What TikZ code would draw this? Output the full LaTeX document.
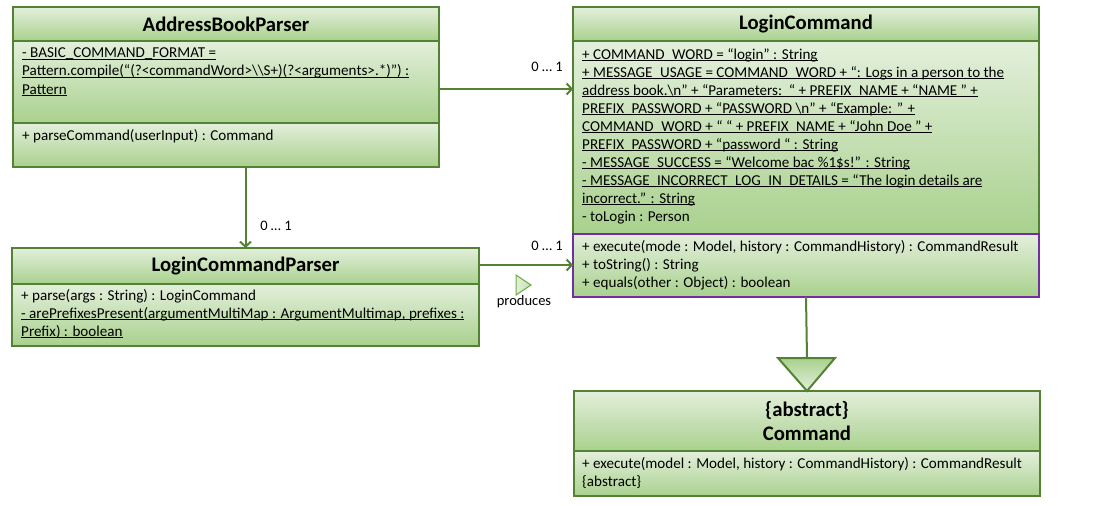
\documentclass[tikz,border=0pt]{standalone}
\usepackage{fontspec}
\setmainfont{Carlito}
\usetikzlibrary{arrows.meta,calc}
\definecolor{gborder}{HTML}{548235}
\definecolor{glight}{HTML}{E3EFDB}
\definecolor{gdark}{HTML}{A9D18E}
\definecolor{mpurple}{HTML}{7030A0}
\definecolor{trifill}{HTML}{C5E0B4}
\definecolor{triborder}{HTML}{70AD47}
\newsavebox\myulbox
\newcommand\myul[1]{\sbox\myulbox{#1}\leavevmode\rlap{\usebox\myulbox}\rule[-2.1pt]{\wd\myulbox}{0.9pt}}
\tikzset{
  comp/.style={rectangle, draw=gborder, line width=2, top color=glight, bottom color=gdark,
    anchor=north west, inner sep=0, outer sep=0},
  ctitle/.style={font=\fontsize{20.7}{24}\selectfont\bfseries, align=center},
  body/.style={anchor=north west, align=left, inner sep=0, font=\fontsize{15.1}{18}\selectfont},
  assoc/.style={draw=gborder, line width=2, -{Straight Barb[length=5,width=11,line width=2]}},
  mult/.style={inner sep=0, font=\fontsize{14.5}{18}\selectfont}
}
\begin{document}
\begin{tikzpicture}[x=1pt,y=-1pt]
\useasboundingbox (0,0) rectangle (1114,506);
\fill[white] (0,0) rectangle (1114,506);

% AddressBookParser
\node[comp, ctitle, minimum width=426, minimum height=34] (abpT) at (13,7) {AddressBookParser};
\node[comp, minimum width=426, minimum height=82] (abpA) at (13,41) {};
\node[comp, minimum width=426, minimum height=44] (abpM) at (13,123) {};
\node[body] (abpAt) at (22,48) {\myul{- BASIC\_COMMAND\_FORMAT =}\\
\myul{Pattern.compile(“(?<commandWord>\textbackslash\textbackslash S+)(?<arguments>.*)”) :}\\
\myul{Pattern}};
\node[body] (abpMt) at (22,129) {+ parseCommand(userInput) : Command};

% LoginCommand
\node[comp, ctitle, minimum width=466, minimum height=34] (lcT) at (573,7) {LoginCommand};
\node[comp, minimum width=466, minimum height=193] (lcA) at (573,41) {};
\node[comp, draw=mpurple, minimum width=466, minimum height=63] (lcM) at (573,234) {};
\node[body] (lcAt) at (582,48) {\myul{+ COMMAND\_WORD = “login” : String}\\
\myul{+ MESSAGE\_USAGE = COMMAND\_WORD + “: Logs in a person to the}\\
\myul{address book.\textbackslash n” + “Parameters:~~“ + PREFIX\_NAME + “NAME ” +}\\
\myul{PREFIX\_PASSWORD + “PASSWORD \textbackslash n” + “Example: ” +}\\
\myul{COMMAND\_WORD + “ “ + PREFIX\_NAME + “John Doe ” +}\\
\myul{PREFIX\_PASSWORD + “password “ : String}\\
\myul{- MESSAGE\_SUCCESS = “Welcome bac \%1\$s!” : String}\\
\myul{- MESSAGE\_INCORRECT\_LOG\_IN\_DETAILS = “The login details are}\\
\myul{incorrect.” : String}\\
- toLogin : Person};
\node[body] (lcMt) at (582,240) {+ execute(mode : Model, history : CommandHistory) : CommandResult\\
+ toString() : String\\
+ equals(other : Object) : boolean};

% LoginCommandParser
\node[comp, ctitle, minimum width=467, minimum height=36] (lcpT) at (12,248) {LoginCommandParser};
\node[comp, minimum width=467, minimum height=62] (lcpM) at (12,284) {};
\node[body] (lcpMt) at (21,289) {+ parse(args : String) : LoginCommand\\
\myul{- arePrefixesPresent(argumentMultiMap : ArgumentMultimap, prefixes :}\\
\myul{Prefix) : boolean}};

% Command
\node[comp, ctitle, minimum width=466, minimum height=60] (cmdT) at (574,391) {\{abstract\}\\Command};
\node[comp, minimum width=466, minimum height=45] (cmdM) at (574,451) {};
\node[body] (cmdMt) at (582,457) {+ execute(model : Model, history : CommandHistory) : CommandResult\\
\{abstract\}};

% associations
\draw[assoc] (abpA.east |- 0,89) -- (lcA.west |- 0,89);
\node[mult] (m1) at (547,67) {0 … 1};
\draw[assoc] (lcpT.north |- abpM.south) -- (lcpT.north);
\node[mult] (m2) at (276,226) {0 … 1};
\draw[assoc] (lcpT.east |- 0,265) -- (lcM.west |- 0,265);
\node[mult] (m3) at (547,246) {0 … 1};

% produces marker
\draw[draw=triborder, line width=1, left color=glight, right color=trifill]
  (516,275) -- (531,285) -- (516,295) -- cycle;
\node[mult] (prod) at (524,302) {produces};

% generalization
\coordinate (apex) at (cmdT.north);
\coordinate (tl) at ($(apex)+(-29,-33)$);
\coordinate (tr) at ($(apex)+(28,-33)$);
\coordinate (tb) at ($(apex)+(0,-33)$);
\draw[gborder, line width=2] (lcM.south) -- (tb);
\draw[gborder, line width=2, line join=miter, top color=gdark, bottom color=glight]
  (tl) -- (tr) -- (apex) -- cycle;
\end{tikzpicture}
\end{document}
